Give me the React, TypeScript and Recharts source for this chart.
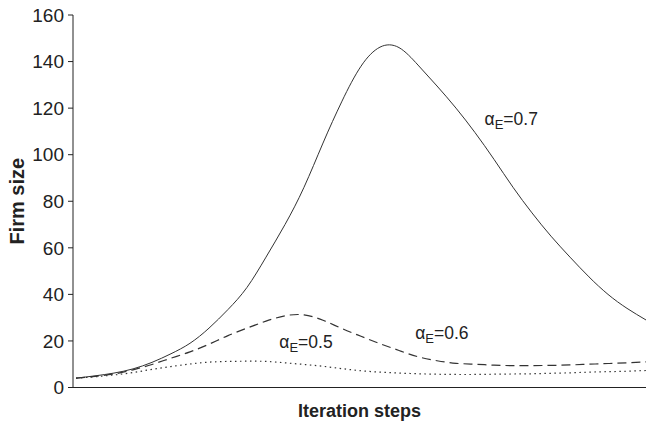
import React from "react";
import { LineChart, Line, XAxis, YAxis, ReferenceDot } from "recharts";

const steps = [0,1,2,3,4,5,6,7,8,9,10,11,12,13,14,15,16,17,18,19,20,21,22,23,24,25,26,27,28,29,30];
const alpha07 = [4,5,6.2,8,10.8,14.5,19,25.5,33.5,43,56,70,86,105,123,138,146.2,146,138.5,129.5,120,109.5,98,86,75,65,56,47.5,40,34,29];
const alpha06 = [4,4.8,5.8,7.6,9.9,12.6,15.3,18.6,22.3,25.5,28.5,30.8,31.2,28.9,25.3,22,18.8,15.9,13.2,11.5,10.4,10,9.6,9.4,9.4,9.5,9.7,10,10.3,10.6,11];
const alpha05 = [4,4.6,5.4,6.4,7.8,9,10.1,10.9,11.2,11.3,11.2,10.6,9.9,9.1,8.1,7.2,6.6,6.2,5.9,5.7,5.6,5.6,5.7,5.8,5.9,6.1,6.3,6.6,6.8,7,7.3];
const yTicks = [0,20,40,60,80,100,120,140,160];
const seriesLabels = [
  { value: "0.7", x: 21.5, y: 115.6 },
  { value: "0.6", x: 17.85, y: 23.5 },
  { value: "0.5", x: 10.7, y: 19.5 },
];

const data = steps.map((s, i) => ({ step: s, a7: alpha07[i], a6: alpha06[i], a5: alpha05[i] }));

const FONT = "'Liberation Sans', Arial, sans-serif";
const LINE = "#333";

const makeLabel = (v: string) => (props: any) => (
  <text x={props.cx} y={props.cy + 6.3} fontFamily={FONT} fontSize={17.5} fill="#222">
    <tspan>α</tspan>
    <tspan fontSize={13} dy={4}>E</tspan>
    <tspan dy={-4}>={v}</tspan>
  </text>
);

const yLabel = (props: any) => {
  const vb = props.viewBox || { y: 15, height: 372.5 };
  const cy = vb.y + vb.height / 2;
  return (
    <text
      x={24}
      y={cy}
      transform={`rotate(-90, 24, ${cy})`}
      textAnchor="middle"
      fontFamily={FONT}
      fontSize={20}
      fontWeight="bold"
      fill="#222"
    >
      Firm size
    </text>
  );
};

export default function App() {
  return (
    <div style={{ position: "absolute", left: 0, top: 0, background: "#fff" }}>
      <LineChart width={646} height={425} data={data} margin={{ top: 15, right: 0, bottom: 0, left: 0 }}>
        <XAxis
          dataKey="step"
          type="number"
          domain={[0, 30]}
          padding={{ left: 3, right: 0 }}
          tick={false}
          tickLine={false}
          height={37.5}
          stroke="#222"
          label={{ value: "Iteration steps", position: "insideBottom", offset: 8.5, fontFamily: FONT, fontSize: 18, fontWeight: "bold", fill: "#222" }}
        />
        <YAxis
          domain={[0, 160]}
          ticks={yTicks}
          width={73}
          tickSize={5}
          tickMargin={4}
          stroke="#222"
          tick={{ fontFamily: FONT, fontSize: 19, fill: "#222" }}
          label={{ content: yLabel }}
        />
        <Line type="natural" dataKey="a7" stroke={LINE} strokeWidth={1} dot={false} isAnimationActive={false} />
        <Line type="natural" dataKey="a6" stroke={LINE} strokeWidth={1.2} strokeDasharray="9 5" dot={false} isAnimationActive={false} />
        <Line type="natural" dataKey="a5" stroke={LINE} strokeWidth={1.2} strokeDasharray="1.5 3.5" dot={false} isAnimationActive={false} />
        {seriesLabels.map((l) => (
          <ReferenceDot key={l.value} x={l.x} y={l.y} r={0} shape={makeLabel(l.value)} />
        ))}
      </LineChart>
    </div>
  );
}
